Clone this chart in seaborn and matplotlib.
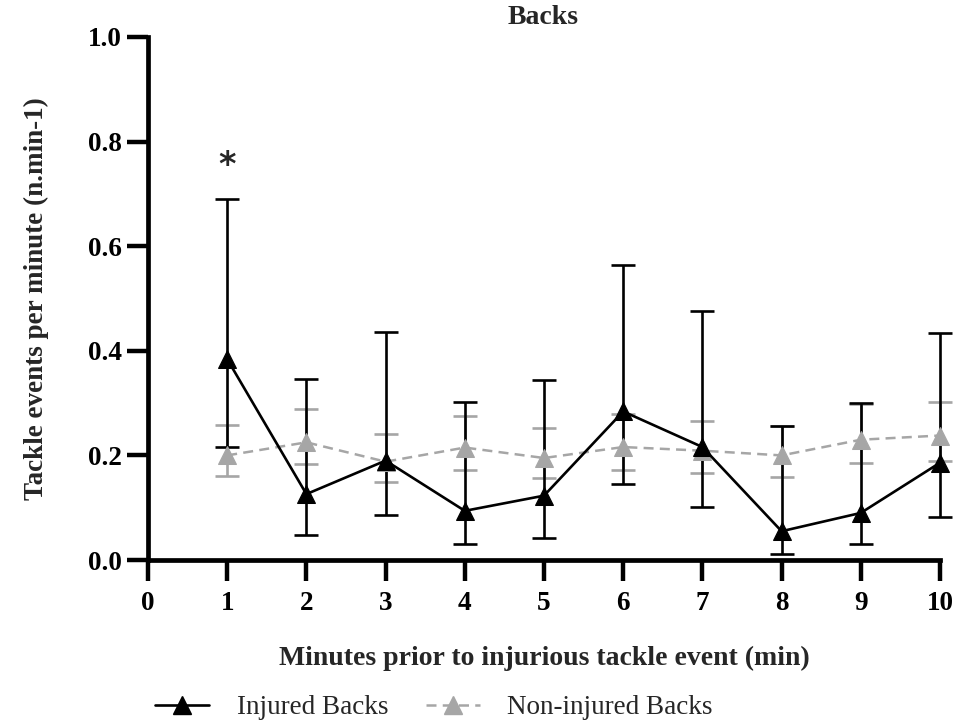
import numpy as np
import pandas as pd
import matplotlib
matplotlib.use("Agg")
import matplotlib.pyplot as plt
from matplotlib.lines import Line2D
import seaborn as sns

# data
minutes = [1, 2, 3, 4, 5, 6, 7, 8, 9, 10]

injured_mean = [0.384, 0.126, 0.190, 0.094, 0.123, 0.284, 0.216, 0.055, 0.090, 0.186]
injured_upper = [0.690, 0.347, 0.436, 0.303, 0.345, 0.565, 0.477, 0.256, 0.300, 0.434]
injured_lower = [0.217, 0.048, 0.086, 0.030, 0.043, 0.146, 0.102, 0.012, 0.030, 0.082]

noninj_mean = [0.200, 0.225, 0.188, 0.215, 0.195, 0.216, 0.209, 0.200, 0.230, 0.238]
noninj_upper = [0.258, 0.288, 0.240, 0.275, 0.252, 0.280, 0.266, 0.256, 0.298, 0.302]
noninj_lower = [0.161, 0.183, 0.150, 0.173, 0.157, 0.173, 0.166, 0.158, 0.186, 0.190]

group_names = ["Injured Backs", "Non-injured Backs"]
star_minute = 1
star_value = 0.755

BLACK = "#000000"
GREY = "#a6a6a6"

sns.set_theme(style="ticks")
plt.rcParams['font.family'] = ['Liberation Serif', 'DejaVu Serif']

df = pd.DataFrame({
    "minute": minutes * 2,
    "rate": injured_mean + noninj_mean,
    "group": [group_names[0]] * len(minutes) + [group_names[1]] * len(minutes),
})

fig = plt.figure(figsize=(9.75, 7.26), dpi=100)
ax = fig.add_axes([148 / 975, 1 - 560 / 726, (940 - 148) / 975, (560 - 37) / 726])

# error bars first so the lines sit on top
for mean, up, lo, col, z in [(noninj_mean, noninj_upper, noninj_lower, GREY, 2),
                             (injured_mean, injured_upper, injured_lower, BLACK, 3)]:
    mean = np.array(mean)
    yerr = [mean - np.array(lo), np.array(up) - mean]
    ax.errorbar(minutes, mean, yerr=yerr, fmt="none", ecolor=col, elinewidth=1.9,
                capsize=8.3, capthick=1.9, zorder=z, clip_on=False)

sns.lineplot(data=df[df.group == group_names[1]], x="minute", y="rate", ax=ax,
             color=GREY, linestyle=(0, (4, 2.5)), linewidth=1.8, marker="^",
             markersize=13, markeredgecolor=GREY, legend=False, zorder=4, clip_on=False)
sns.lineplot(data=df[df.group == group_names[0]], x="minute", y="rate", ax=ax,
             color=BLACK, linewidth=1.9, marker="^", markersize=13,
             markeredgecolor=BLACK, legend=False, zorder=5, clip_on=False)

ax.text(star_minute, star_value, "*", ha="center", va="center", fontsize=24,
        fontweight="bold", family="DejaVu Sans")

ax.set_xlim(0, 10)
ax.set_ylim(0, 1.0)
ax.set_xticks(range(0, 11))
ax.set_yticks([0.0, 0.2, 0.4, 0.6, 0.8, 1.0])
ax.set_yticklabels(["0.0", "0.2", "0.4", "0.6", "0.8", "1.0"])
for lbl in ax.get_xticklabels() + ax.get_yticklabels():
    lbl.set_fontweight("bold")
ax.tick_params(axis="both", length=15, width=3.2, labelsize=19.5, color="black",
               labelcolor="black", pad=4)
ax.tick_params(axis="x", pad=7)

sns.despine(ax=ax)
for s in ["left", "bottom"]:
    ax.spines[s].set_linewidth(3.4)
    ax.spines[s].set_color("black")

ax.set_xlabel("Minutes prior to injurious tackle event (min)", fontsize=20,
              fontweight="bold", labelpad=22)
ax.set_ylabel("Tackle events per minute (n.min-1)", fontsize=19.5,
              fontweight="bold", labelpad=28)
fig.text(543 / 975, 1 - 18 / 726, "Backs", ha="center", va="center",
         fontsize=20, fontweight="bold")

handles = [
    Line2D([], [], color=BLACK, linewidth=1.9, marker="^", markersize=13),
    Line2D([], [], color=GREY, linewidth=1.8, linestyle=(0, (4, 2.5)), marker="^",
           markersize=13),
]
fig.legend(handles, group_names, loc="center", bbox_to_anchor=(434 / 975, 1 - 708 / 726),
           ncol=2, frameon=False, fontsize=19.5, handlelength=2.0, columnspacing=1.4,
           handletextpad=1.0, borderpad=0)

fig.savefig("out.png", dpi=100)
